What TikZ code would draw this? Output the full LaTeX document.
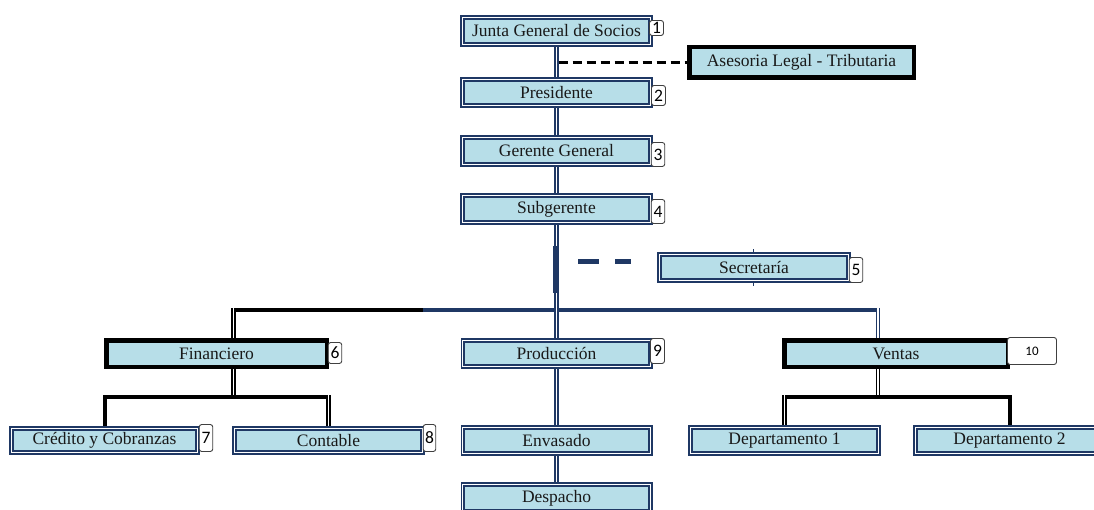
\documentclass[tikz,border=0pt]{standalone}
\usepackage{fontspec}
\setmainfont{Liberation Serif}
\newfontfamily\badgefont{Carlito}
\usetikzlibrary{backgrounds}
\definecolor{navy}{HTML}{1F3864}
\definecolor{boxfill}{HTML}{B7DEE8}
\definecolor{badgeline}{HTML}{404040}
\begin{document}
\begin{tikzpicture}[x=1pt,y=-1pt,
  orgbox/.style={draw=navy, double=white, double distance=1pt, line width=1.8pt, fill=boxfill,
    inner sep=0pt, outer sep=0pt, text=black!90, font=\fontsize{17.5}{20}\selectfont},
  thickbox/.style={draw=black, line width=4.5pt, fill=boxfill,
    inner sep=0pt, outer sep=0pt, text=black!90, font=\fontsize{17.5}{20}\selectfont},
  badge/.style={draw=badgeline, line width=0.9pt, fill=white, rounded corners=2.5pt,
    inner sep=0pt, outer sep=0pt, font=\badgefont\fontsize{17.5}{18}\selectfont},
  vconn/.style={draw=navy, double=white, line width=1.6pt, double distance=1.1pt},
  kconn/.style={draw=black, double=white, line width=1.6pt, double distance=1.1pt},
  kbar/.style={draw=black, line width=4pt},
  nbar/.style={draw=navy, line width=4pt},
  dashk/.style={draw=black, line width=2.5pt, dash pattern=on 9pt off 5pt},
  secdash/.style={draw=navy, line width=5pt, dash pattern=on 21pt off 16pt},
  tick/.style={draw=navy, double=white, line width=0.9pt, double distance=0.8pt}
]
\useasboundingbox (0,0) rectangle (1094,510);

% boxes
\node[orgbox, minimum width=188.4pt, minimum height=27.4pt] (junta) at (556.5,31) {Junta General de Socios};
\node[thickbox, minimum width=224.5pt, minimum height=30.5pt] (ases) at (801.5,62.5) {Asesoria Legal - Tributaria};
\node[orgbox, minimum width=188.4pt, minimum height=26.4pt] (pres) at (556.5,92.5) {Presidente};
\node[orgbox, minimum width=188.4pt, minimum height=27.4pt] (ger) at (556.5,151) {Gerente General};
\node[orgbox, minimum width=188.4pt, minimum height=27.4pt] (sub) at (556.5,209) {Subgerente};
\node[orgbox, minimum width=189.4pt, minimum height=26.4pt] (sec) at (754,267.5) {Secretaría};
\node[thickbox, minimum width=220.5pt, minimum height=26.5pt] (fin) at (216.5,353.5) {Financiero};
\node[orgbox, minimum width=187.4pt, minimum height=26.4pt] (prod) at (556.5,353.5) {Producción};
\node[thickbox, minimum width=223.5pt, minimum height=26.5pt] (ven) at (896,353.5) {Ventas};
\node[orgbox, minimum width=186.4pt, minimum height=24.4pt] (cred) at (104.5,440.5) {Crédito y Cobranzas};
\node[orgbox, minimum width=188.4pt, minimum height=24.4pt] (cont) at (328.5,440.5) {Contable};
\node[orgbox, minimum width=187.4pt, minimum height=26.4pt] (env) at (556.5,440.5) {Envasado};
\node[orgbox, minimum width=188.4pt, minimum height=26.4pt] (d1) at (784.5,440.5) {Departamento 1};
\node[orgbox, minimum width=188.4pt, minimum height=26.4pt] (d2) at (1009.5,440.5) {Departamento 2};
\node[orgbox, minimum width=187.4pt, minimum height=27.4pt] (desp) at (556.5,498) {Despacho};

% badges
\node[badge, minimum width=14pt, minimum height=15pt] (b1) at (656.5,28) {1};
\node[badge, minimum width=14pt, minimum height=20pt] (b2) at (658.5,95.5) {2};
\node[badge, minimum width=13.5pt, minimum height=24pt] (b3) at (658,154.5) {3};
\node[badge, minimum width=13.5pt, minimum height=24pt] (b4) at (658,211.5) {4};
\node[badge, minimum width=13.5pt, minimum height=25pt] (b5) at (856,270) {5};
\node[badge, minimum width=13.5pt, minimum height=21pt] (b6) at (335,353) {6};
\node[badge, minimum width=13.5pt, minimum height=27pt] (b7) at (206,438) {7};
\node[badge, minimum width=12.5pt, minimum height=27pt] (b8) at (429.5,438) {8};
\node[badge, minimum width=14pt, minimum height=25pt] (b9) at (657.5,351) {9};
\node[badge, minimum width=49pt, minimum height=27pt, font=\badgefont\fontsize{13}{14}\selectfont] (b10) at (1032,351) {10};

% helper coordinates
\coordinate (bl) at (233.5,310);
\coordinate (bk) at (423,310);
\coordinate (br) at (878,310);
\coordinate (b2y) at (0,397);
\coordinate (sd1) at (578,262);
\coordinate (sd2) at (631,262);

\begin{scope}[on background layer]
  % top chain
  \draw[vconn] (junta) -- (pres);
  \draw[vconn] (pres) -- (ger);
  \draw[vconn] (ger) -- (sub);
  \draw[dashk] ([xshift=2pt]junta.south |- ases.west) -- (ases.west);
  % main bus
  \draw[kbar] (bl) -- (bk);
  \draw[nbar] (bk) -- ([xshift=2pt]br);
  \draw[kconn] ([yshift=2pt]bl) -- (bl |- fin.north);
  \draw[vconn] ([yshift=2pt]br) -- (br |- ven.north);
  \draw[vconn] (sub) -- (prod);
  % secretaria link
  \fill[navy] (553,246) rectangle (557.5,293);
  \draw[secdash] (sd1) -- (sd2);
  \draw[tick] (sec.north) -- ++(0,-5);
  \draw[tick] (sec.south) -- ++(0,5);
  % financiero branch
  \draw[kconn] (bl |- fin.south) -- ([yshift=2pt]bl |- b2y);
  \draw[kbar] (cred.north) -- (cred.north |- b2y) -- ([xshift=2pt]cont.north |- b2y);
  \draw[kconn] ([yshift=2pt]cont.north |- b2y) -- (cont.north);
  % produccion branch
  \draw[vconn] (prod) -- (env);
  \draw[vconn] (env) -- (desp);
  % ventas branch
  \draw[kconn] (br |- ven.south) -- ([yshift=2pt]br |- b2y);
  \draw[kbar] ([xshift=-2pt]d1.north |- b2y) -- (d2.north |- b2y) -- (d2.north);
  \draw[kconn] ([yshift=2pt]d1.north |- b2y) -- (d1.north);
\end{scope}
\end{tikzpicture}
\end{document}
